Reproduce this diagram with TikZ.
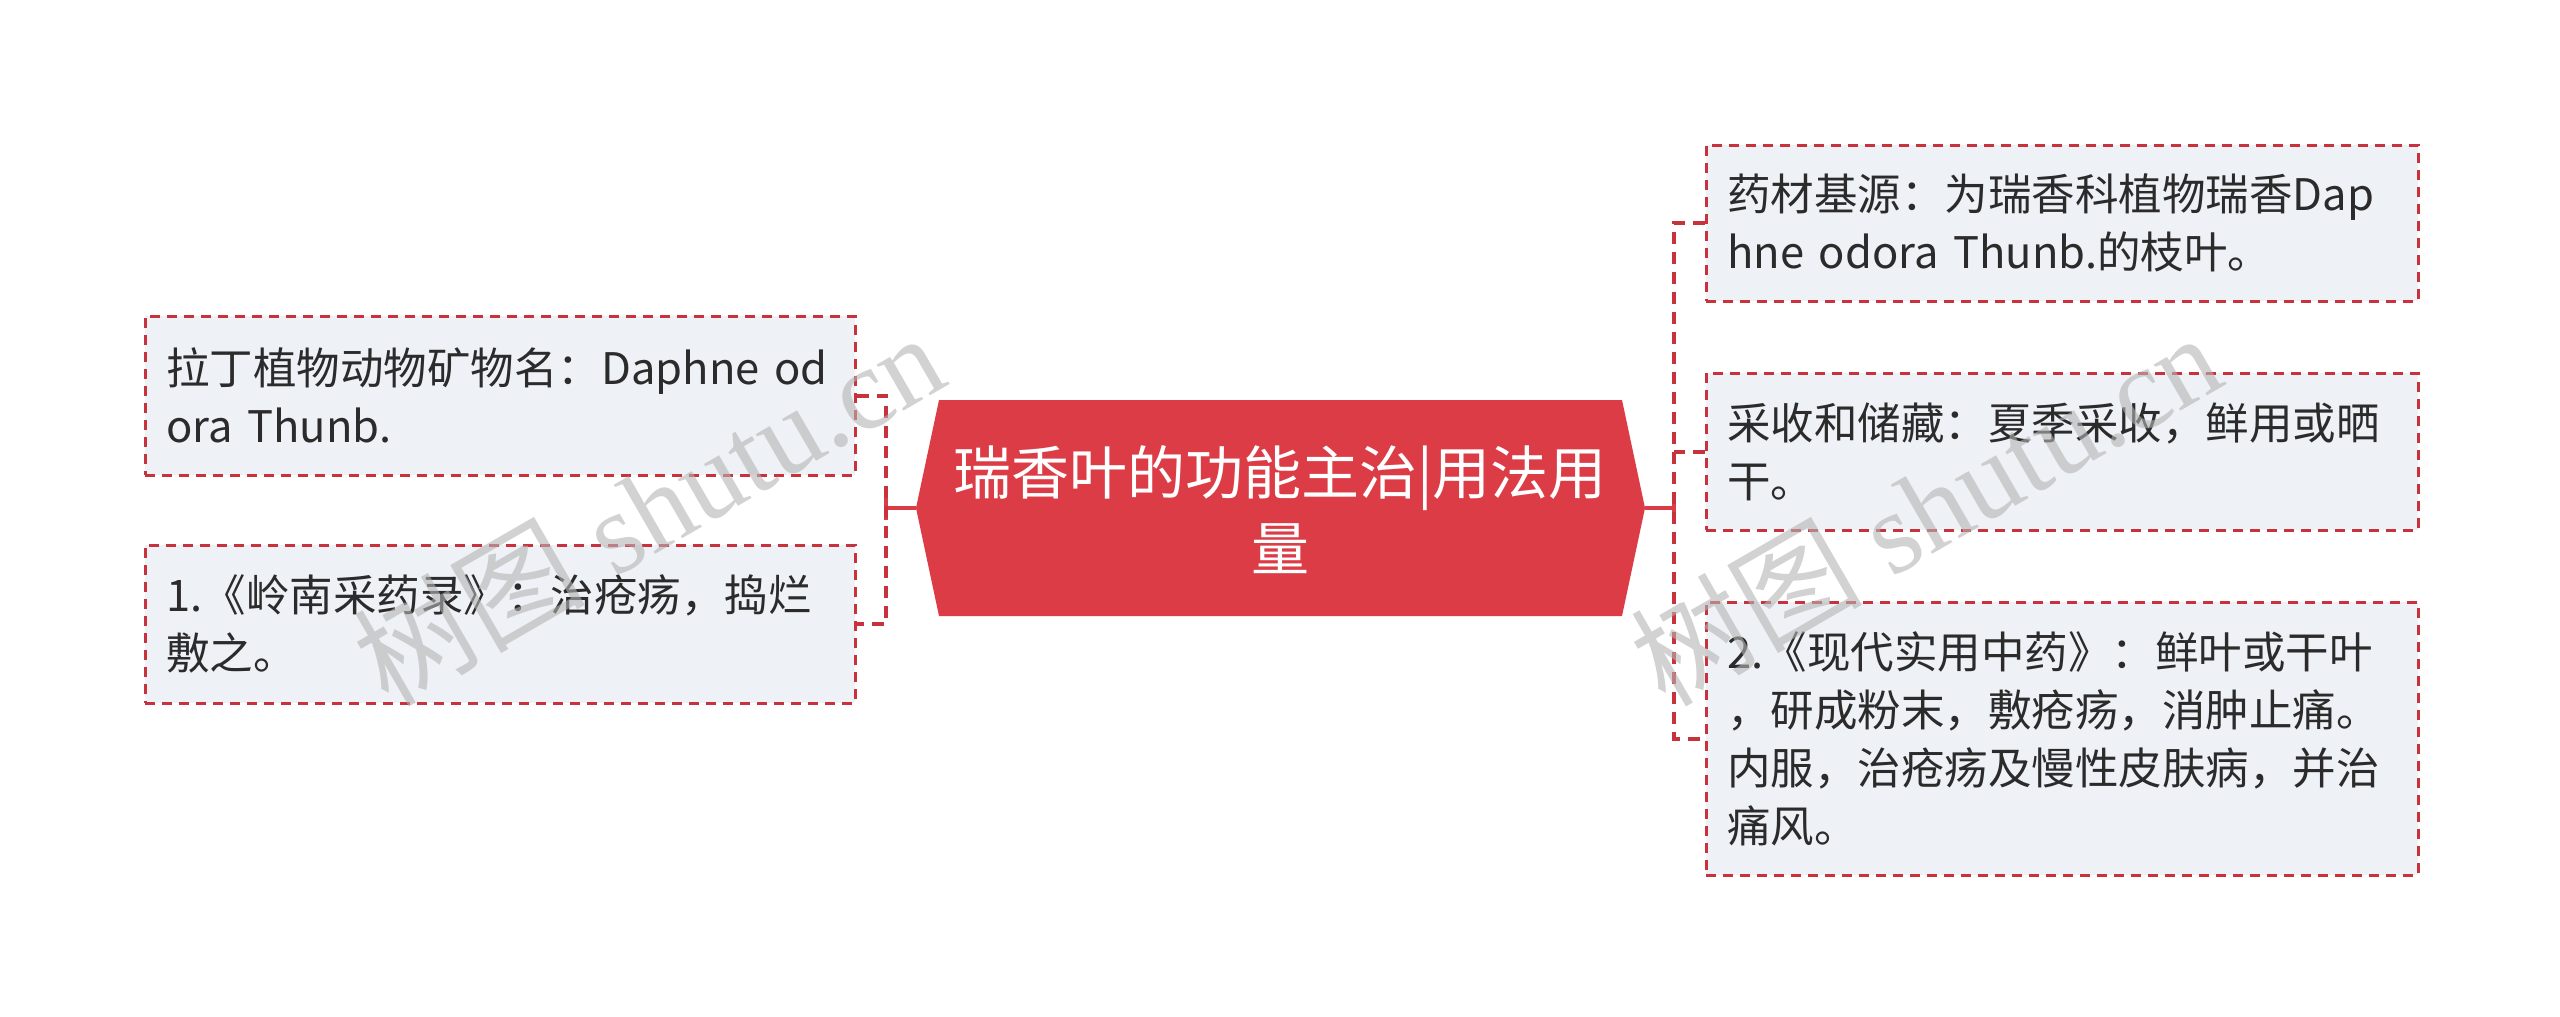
\documentclass[tikz,border=0pt]{standalone}
\usepackage{fontspec}
\newfontfamily\cjk{Noto Sans CJK SC}
\newfontfamily\wmserif{Liberation Serif}
\definecolor{dashred}{HTML}{C8323C}
\definecolor{hexred}{HTML}{DC3C45}
\definecolor{boxfill}{HTML}{EEF1F5}
\definecolor{textc}{HTML}{2B2B2B}
\definecolor{wmgray}{HTML}{B4B4B4}
\begin{document}
\begin{tikzpicture}[x=1pt,y=-1pt,
  leaf/.style={draw=dashred, line width=2.6pt, dash pattern=on 10pt off 7pt,
    fill=boxfill, align=left, inner xsep=21pt, inner ysep=0pt,
    font=\cjk\fontsize{43.5}{58}\selectfont, text=textc, anchor=north west},
  bracket/.style={draw=dashred, line width=4pt, dash pattern=on 12pt off 8pt},
  conn/.style={draw=hexred, line width=4pt},
  wm/.style={text=wmgray, opacity=0.6, font=\wmserif\fontsize{116}{116}\selectfont, inner sep=0pt}
]
\useasboundingbox (0,0) rectangle (2560,1017);
\fill[white] (0,0) rectangle (2560,1017);

% central hexagon
\coordinate (lt) at (916,508);
\coordinate (rt) at (1645,508);
\fill[hexred] (939,400) -- (1622,400) -- (rt) -- (1622,616) -- (939,616) -- (lt) -- cycle;
\node[text=white, align=center, font=\cjk\fontsize{58}{76}\selectfont, inner sep=0pt] (c) at (1280,510)
  {瑞香叶的功能主治|用法用\\量};

% left leaves
\node[leaf, text width=668pt, minimum height=159pt] (L1) at (144,315)
  {拉丁植物动物矿物名：Daphne od\\ora Thunb.};
\node[leaf, text width=668pt, minimum height=158pt] (L2) at (144,544)
  {1.《岭南采药录》：治疮疡，捣烂\\敷之。};

% right leaves
\node[leaf, text width=670pt, minimum height=156pt] (R1) at (1705,144)
  {药材基源：为瑞香科植物瑞香Dap\\hne odora Thunb.的枝叶。};
\node[leaf, text width=670pt, minimum height=157pt] (R2) at (1705,372)
  {采收和储藏：夏季采收，鲜用或晒\\干。};
\node[leaf, text width=670pt, minimum height=273pt] (R3) at (1705,601)
  {2.《现代实用中药》：鲜叶或干叶\\，研成粉末，敷疮疡，消肿止痛。\\内服，治疮疡及慢性皮肤病，并治\\痛风。};

% connectors
\coordinate (lb) at (886,508);
\coordinate (rb) at (1674,508);
\draw[conn] (lt) -- (lb);
\draw[conn] ([yshift=-12pt]lb) -- ([yshift=12pt]lb);
\draw[bracket] (L1.east) -- (L1.east -| lb) -- (L2.east -| lb) -- (L2.east);
\draw[conn] (rt) -- (rb);
\draw[conn] ([yshift=-12pt]rb) -- ([yshift=12pt]rb);
\draw[bracket] (R1.west) -- (R1.west -| rb) -- (R3.west -| rb) -- (R3.west);
\draw[bracket] (R2.west) -- (R2.west -| rb);

% watermarks
\node[wm, rotate=30] (w1) at (648,508) {{\cjk 树图} shutu.cn};
\node[wm, rotate=30] (w2) at (1925,508) {{\cjk 树图} shutu.cn};
\end{tikzpicture}
\end{document}
